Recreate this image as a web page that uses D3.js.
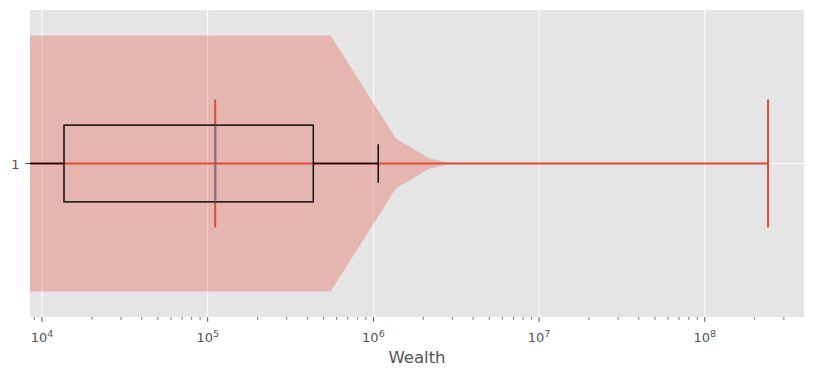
<!DOCTYPE html>
<html>
<head>
<meta charset="utf-8">
<script src="https://cdn.jsdelivr.net/npm/d3@7"></script>
<style>
    body { margin: 0; background: #ffffff; }
    svg { display: block; font-family: "DejaVu Sans", sans-serif; }
    .tick-label { fill: #555555; font-size: 13px; }
    .axis-label { fill: #555555; font-size: 16.5px; }
</style>
</head>
<body>
<svg id="chart" width="813" height="376"></svg>
<script>
// Violin outline: wealth positions and relative density (1 = widest)
const violinWealth = [1000, 5.52e5, 1.37e6, 2.2e6, 2.95e6, 3.8e6, 2.41e8];
const violinDensity = [1.0, 1.0, 0.193, 0.037, 0.004, 0.0, 0.0];

// Violin summary lines
const violinMin = 1000;
const violinMedian = 1.11e5;
const violinMax = 2.41e8;

// Box plot stats
const boxWhiskerLow = 1000;
const boxQ1 = 1.358e4;
const boxMedian = 1.11e5;
const boxQ3 = 4.34e5;
const boxWhiskerHigh = 1.07e6;

const categories = ["1"];
const majorTicks = [1e4, 1e5, 1e6, 1e7, 1e8];

const margin = {left: 30, right: 9, top: 10, bottom: 59};
const width = 813, height = 376;

const svg = d3.select("#chart");

const x = d3.scaleLog()
    .domain([8466, 3.97e8])
    .range([margin.left, width - margin.right]);

const y = d3.scaleLinear()
    .domain([0, 2])
    .range([height - margin.bottom, margin.top]);

const RED = "#E24A33";
const BLUE = "#348ABD";
const pos = 1;
const violinHalf = 0.834;
const capHalf = 0.417;
const boxHalf = 0.25;
const whiskerCapHalf = 0.125;

// Background
svg.append("rect")
    .attr("x", margin.left)
    .attr("y", margin.top)
    .attr("width", width - margin.left - margin.right)
    .attr("height", height - margin.top - margin.bottom)
    .attr("fill", "#E5E5E5");

svg.append("clipPath").attr("id", "plot-clip")
    .append("rect")
    .attr("x", margin.left)
    .attr("y", margin.top)
    .attr("width", width - margin.left - margin.right)
    .attr("height", height - margin.top - margin.bottom);

// Grid
const grid = svg.append("g");
grid.selectAll(".vgrid")
    .data(majorTicks)
    .enter()
    .append("line")
    .attr("x1", (d) => x(d))
    .attr("x2", (d) => x(d))
    .attr("y1", margin.top)
    .attr("y2", height - margin.bottom)
    .attr("stroke", "#ffffff")
    .attr("stroke-width", 1);

grid.selectAll(".hgrid")
    .data(categories)
    .enter()
    .append("line")
    .attr("x1", margin.left)
    .attr("x2", width - margin.right)
    .attr("y1", (d) => y(+d))
    .attr("y2", (d) => y(+d))
    .attr("stroke", "#ffffff")
    .attr("stroke-width", 1);

const plot = svg.append("g").attr("clip-path", "url(#plot-clip)");

// Violin body
const violinPoints = violinWealth.map((w, i) => ({"w": w, "d": violinDensity[i]}));
const area = d3.area()
    .x((p) => x(p.w))
    .y0((p) => y(pos - p.d * violinHalf))
    .y1((p) => y(pos + p.d * violinHalf));

plot.append("path")
    .attr("d", area(violinPoints))
    .attr("fill", RED)
    .attr("fill-opacity", 0.3)
    .attr("stroke", "none");

// Violin bar, caps and median
const vG = plot.append("g");
vG.append("line")
    .attr("x1", x(violinMin)).attr("x2", x(violinMax))
    .attr("y1", y(pos)).attr("y2", y(pos))
    .attr("stroke", RED).attr("stroke-width", 2);
[violinMin, violinMedian, violinMax].forEach((v) => {
    vG.append("line")
        .attr("x1", x(v)).attr("x2", x(v))
        .attr("y1", y(pos - capHalf)).attr("y2", y(pos + capHalf))
        .attr("stroke", RED).attr("stroke-width", 2);
});

// Box plot, drawn over the violin lines
const boxG = plot.append("g");
boxG.append("line")
    .attr("x1", x(boxWhiskerLow)).attr("x2", x(boxQ1))
    .attr("y1", y(pos)).attr("y2", y(pos))
    .attr("stroke", "#000").attr("stroke-width", 1.4);
boxG.append("line")
    .attr("x1", x(boxQ3)).attr("x2", x(boxWhiskerHigh))
    .attr("y1", y(pos)).attr("y2", y(pos))
    .attr("stroke", "#000").attr("stroke-width", 1.4);
[boxWhiskerLow, boxWhiskerHigh].forEach((v) => {
    boxG.append("line")
        .attr("x1", x(v)).attr("x2", x(v))
        .attr("y1", y(pos - whiskerCapHalf)).attr("y2", y(pos + whiskerCapHalf))
        .attr("stroke", "#000").attr("stroke-width", 1.4);
});
boxG.append("rect")
    .attr("x", x(boxQ1))
    .attr("y", y(pos + boxHalf))
    .attr("width", x(boxQ3) - x(boxQ1))
    .attr("height", y(pos - boxHalf) - y(pos + boxHalf))
    .attr("fill", "none")
    .attr("stroke", "#000")
    .attr("stroke-width", 1.4);
boxG.append("line")
    .attr("x1", x(boxMedian) + 0.5).attr("x2", x(boxMedian) + 0.5)
    .attr("y1", y(pos + boxHalf)).attr("y2", y(pos - boxHalf))
    .attr("stroke", BLUE).attr("stroke-width", 1.2);

// X axis ticks
const axisY = height - margin.bottom;
const minorTicks = [];
[1e3, 1e4, 1e5, 1e6, 1e7, 1e8].forEach((dec) => {
    for (let k = 2; k <= 9; k++) {
        const v = dec * k;
        if (v >= x.domain()[0] && v <= x.domain()[1]) minorTicks.push(v);
    }
});

const axis = svg.append("g");
axis.selectAll(".minor")
    .data(minorTicks)
    .enter()
    .append("line")
    .attr("x1", (d) => x(d)).attr("x2", (d) => x(d))
    .attr("y1", axisY).attr("y2", axisY + 2.8)
    .attr("stroke", "#555555").attr("stroke-width", 0.8);

axis.selectAll(".major")
    .data(majorTicks)
    .enter()
    .append("line")
    .attr("x1", (d) => x(d)).attr("x2", (d) => x(d))
    .attr("y1", axisY).attr("y2", axisY + 4.9)
    .attr("stroke", "#555555").attr("stroke-width", 1);

const labels = axis.selectAll(".xlabel")
    .data(majorTicks)
    .enter()
    .append("text")
    .classed("tick-label", true)
    .attr("x", (d) => x(d))
    .attr("y", 341.5)
    .attr("text-anchor", "middle");
labels.append("tspan").text("10");
labels.append("tspan")
    .attr("dy", "-0.45em")
    .attr("font-size", "9.5px")
    .text((d) => Math.round(Math.log10(d)));

// Y axis tick
svg.selectAll(".ytick")
    .data(categories)
    .enter()
    .append("line")
    .attr("x1", margin.left - 4.9).attr("x2", margin.left)
    .attr("y1", (d) => y(+d)).attr("y2", (d) => y(+d))
    .attr("stroke", "#555555").attr("stroke-width", 1);

svg.selectAll(".ylabel")
    .data(categories)
    .enter()
    .append("text")
    .classed("tick-label", true)
    .attr("x", margin.left - 10.5)
    .attr("y", (d) => y(+d) + 5)
    .attr("text-anchor", "end")
    .text((d) => d);

// Axis title
svg.append("text")
    .classed("axis-label", true)
    .attr("x", (margin.left + width - margin.right) / 2)
    .attr("y", 363)
    .attr("text-anchor", "middle")
    .text("Wealth");
</script>
</body>
</html>
